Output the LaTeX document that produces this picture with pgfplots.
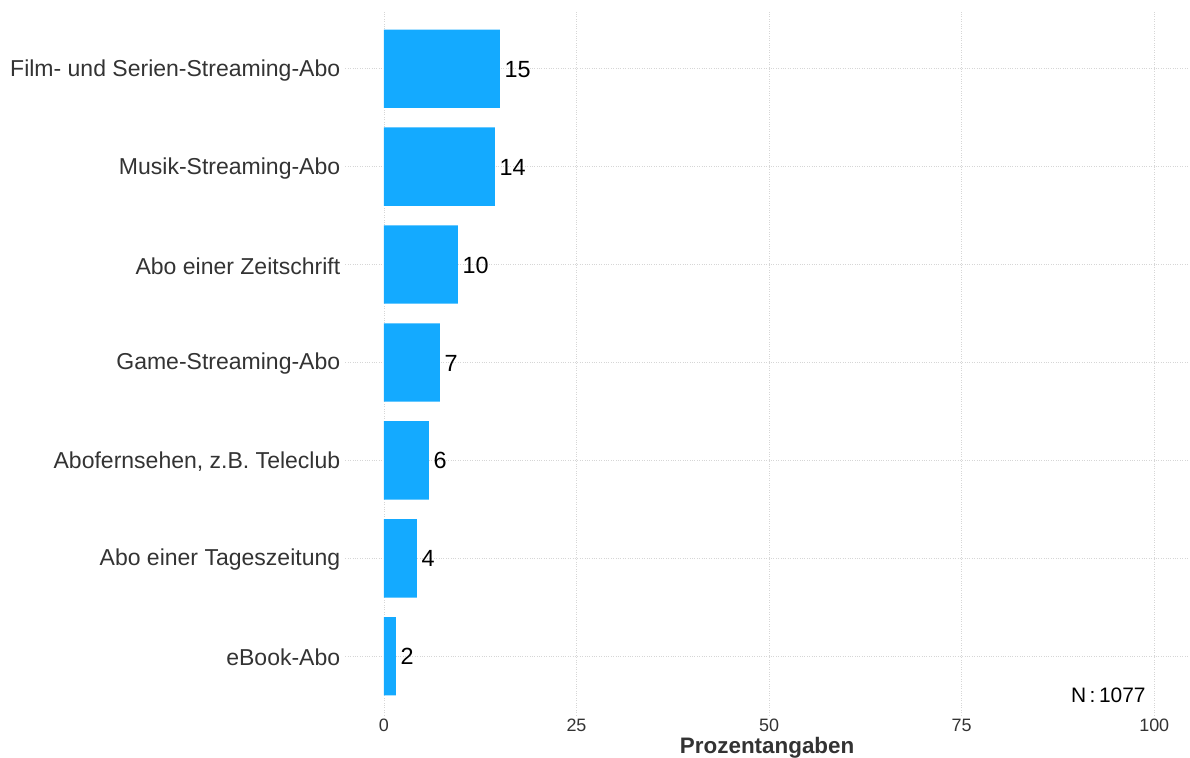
\documentclass[border=0pt]{standalone}
\usepackage{fontspec}
\setmainfont{Liberation Sans}
\usepackage{pgfplots}
\pgfplotsset{compat=1.18}
\definecolor{barblue}{HTML}{14AAFF}
\definecolor{txt}{HTML}{333333}
\definecolor{gridc}{HTML}{D6D6D6}
\begin{document}
\begin{tikzpicture}
\useasboundingbox (-345.4bp,-43bp) rectangle (844.6bp,715bp);
\begin{axis}[
  at={(0,0)}, anchor=south west, scale only axis,
  width=843.5bp, height=705bp,
  xbar, bar width=0.8,
  xmin=-5, xmax=104.5, ymin=0.4, ymax=7.6,
  xtick={0,25,50,75,100}, ytick={1,...,7},
  yticklabels={eBook-Abo, Abo einer Tageszeitung, {Abofernsehen, z.B. Teleclub}, Game-Streaming-Abo, Abo einer Zeitschrift, Musik-Streaming-Abo, Film- und Serien-Streaming-Abo},
  axis line style={draw=none}, major tick length=0pt,
  grid=major, grid style={gridc, dotted, line width=0.8pt},
  /pgf/number format/assume math mode=true,
  xticklabel style={font=\fontsize{18}{18}\selectfont, text=txt, inner sep=0pt, yshift=-4bp},
  yticklabel style={font=\fontsize{23.1}{24}\selectfont, text=txt, inner sep=0pt, xshift=-5bp, yshift=-1.5bp},
  xlabel={Prozentangaben},
  xlabel style={font=\fontsize{22.5}{23}\selectfont\bfseries, text=txt, inner sep=0pt, yshift=-5bp},
  clip=false,
]
\addplot[fill=barblue, draw=none,
  nodes near coords, point meta=explicit symbolic,
  nodes near coords style={anchor=west, font=\fontsize{23.5}{23.5}\selectfont, text=black, inner sep=0pt, xshift=4.5bp, yshift=-0.5bp}]
  table[x=x, y=y, meta=lab] {
x y lab
1.56 1 2
4.28 2 4
5.84 3 6
7.26 4 7
9.6 5 10
14.4 6 14
15.05 7 15
};
\node[anchor=base east, font=\fontsize{21}{21}\selectfont, inner sep=0pt] at (axis cs:98.9,0.526) {N\,:\,1077};
\end{axis}
\end{tikzpicture}
\end{document}
